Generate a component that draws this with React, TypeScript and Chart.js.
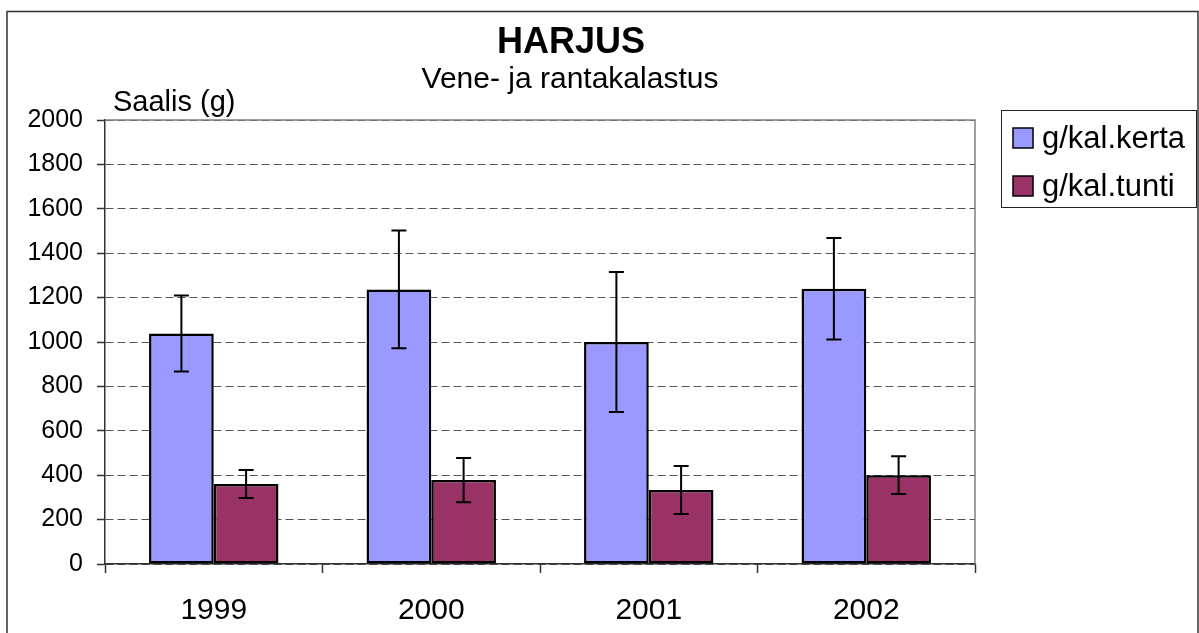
import React, { useEffect, useRef } from "react";
import { Chart, registerables } from "chart.js";

Chart.register(...registerables);

const years = ["1999", "2000", "2001", "2002"];
const seriesLabels = ["g/kal.kerta", "g/kal.tunti"];
const kertaValues = [1038, 1237, 1000, 1240];
const kertaErrors = [171, 265, 315, 229];
const tuntiValues = [360, 378, 333, 400];
const tuntiErrors = [63, 100, 108, 85];
const yTickValues = [0, 200, 400, 600, 800, 1000, 1200, 1400, 1600, 1800, 2000];
const titleText = "HARJUS";
const subtitleText = "Vene- ja rantakalastus";
const yAxisTitle = "Saalis (g)";

const FONT = "'Liberation Sans', Arial, Helvetica, sans-serif";
const W = 1199;
const H = 633;

const errorBarPlugin = {
  id: "errorBars",
  afterDatasetsDraw(chart: any) {
    const ctx = chart.ctx;
    const yScale = chart.scales.y;
    chart.data.datasets.forEach((ds: any, di: number) => {
      const meta = chart.getDatasetMeta(di);
      meta.data.forEach((el: any, i: number) => {
        const v = ds.data[i];
        const e = ds.errors[i];
        const x = el.x;
        const yTop = yScale.getPixelForValue(v + e);
        const yBot = yScale.getPixelForValue(v - e);
        ctx.save();
        ctx.strokeStyle = "#000";
        ctx.lineWidth = 2;
        ctx.beginPath();
        ctx.moveTo(x, yTop);
        ctx.lineTo(x, yBot);
        ctx.moveTo(x - 7.5, yTop);
        ctx.lineTo(x + 7.5, yTop);
        ctx.moveTo(x - 7.5, yBot);
        ctx.lineTo(x + 7.5, yBot);
        ctx.stroke();
        ctx.restore();
      });
    });
  },
};

const decorPlugin = {
  id: "decor",
  beforeDraw(chart: any) {
    const ctx = chart.ctx;
    ctx.save();
    ctx.fillStyle = "#fff";
    ctx.fillRect(0, 0, chart.width, chart.height);
    ctx.restore();
  },
  afterDraw(chart: any) {
    const ctx = chart.ctx;
    const area = chart.chartArea;
    ctx.save();
    // plot area top/right border
    ctx.strokeStyle = "#808080";
    ctx.lineWidth = 1.5;
    ctx.beginPath();
    ctx.moveTo(area.left, area.top);
    ctx.lineTo(area.right, area.top);
    ctx.lineTo(area.right, area.bottom);
    ctx.stroke();

    // outer border
    ctx.strokeStyle = "#333";
    ctx.lineWidth = 1.5;
    ctx.strokeRect(7, 11.5, 1191, 700);

    // title
    ctx.fillStyle = "#000";
    ctx.textAlign = "center";
    ctx.textBaseline = "alphabetic";
    ctx.font = `bold 36px ${FONT}`;
    ctx.fillText(titleText, 571, 53);
    ctx.font = `30px ${FONT}`;
    ctx.fillText(subtitleText, 570, 88);

    // y axis title
    ctx.textAlign = "left";
    ctx.font = `29px ${FONT}`;
    ctx.fillText(yAxisTitle, 113, 111);

    // legend
    ctx.strokeStyle = "#222";
    ctx.lineWidth = 1;
    ctx.strokeRect(1001.5, 110.5, 195, 97);
    ctx.font = `31px ${FONT}`;
    chart.data.datasets.forEach((ds: any, i: number) => {
      const sy = 128 + i * 48;
      ctx.fillStyle = ds.backgroundColor;
      ctx.fillRect(1013, sy, 20, 20);
      ctx.strokeStyle = "#000";
      ctx.lineWidth = 1.5;
      ctx.strokeRect(1013, sy, 20, 20);
      ctx.fillStyle = "#000";
      ctx.fillText(ds.label, 1042, sy + 20);
    });
    ctx.restore();
  },
};

export default function App() {
  const ref = useRef<HTMLCanvasElement | null>(null);
  useEffect(() => {
    if (!ref.current) return;
    const chart = new Chart(ref.current, {
      type: "bar",
      data: {
        labels: years,
        datasets: [
          {
            label: seriesLabels[0],
            data: kertaValues,
            errors: kertaErrors,
            backgroundColor: "#9999FF",
            borderColor: "#000",
            borderWidth: 2.5,
            borderSkipped: false,
          } as any,
          {
            label: seriesLabels[1],
            data: tuntiValues,
            errors: tuntiErrors,
            backgroundColor: "#993366",
            borderColor: "#000",
            borderWidth: 2.5,
            borderSkipped: false,
          } as any,
        ],
      },
      options: {
        animation: false,
        responsive: false,
        devicePixelRatio: 1,
        layout: { padding: { left: 0, top: 120, right: 224, bottom: 0 } },
        datasets: { bar: { categoryPercentage: 0.595, barPercentage: 1.0 } },
        plugins: { legend: { display: false }, tooltip: { enabled: false }, title: { display: false } },
        scales: {
          x: {
            grid: {
              offset: true,
              drawOnChartArea: false,
              drawTicks: true,
              tickLength: 9,
              tickColor: "#333",
              tickWidth: 1.5,
            },
            border: { display: true, color: "#333", width: 1.5 },
            ticks: { color: "#000", font: { family: FONT, size: 30 }, padding: 20 },
            afterFit(scale: any) {
              scale.height = 69;
            },
          },
          y: {
            min: 0,
            max: 2000,
            afterBuildTicks(scale: any) {
              scale.ticks = yTickValues.map((v) => ({ value: v }));
            },
            grid: {
              color: "#555",
              lineWidth: 1,
              drawTicks: true,
              tickLength: 8,
              tickColor: "#333",
              tickWidth: 1.5,
              tickBorderDash: [],
            },
            border: { display: true, color: "#333", width: 1.5, dash: [8, 4] },
            ticks: {
              color: "#000",
              font: { family: FONT, size: 25 },
              padding: 14,
              callback: (v: any) => String(v),
            },
            afterFit(scale: any) {
              scale.width = 105;
            },
          },
        },
      } as any,
      plugins: [errorBarPlugin, decorPlugin],
    });
    return () => chart.destroy();
  }, []);
  return (
    <div style={{ position: "absolute", left: 0, top: 0, width: W, height: H }}>
      <canvas ref={ref} width={W} height={H} />
    </div>
  );
}
